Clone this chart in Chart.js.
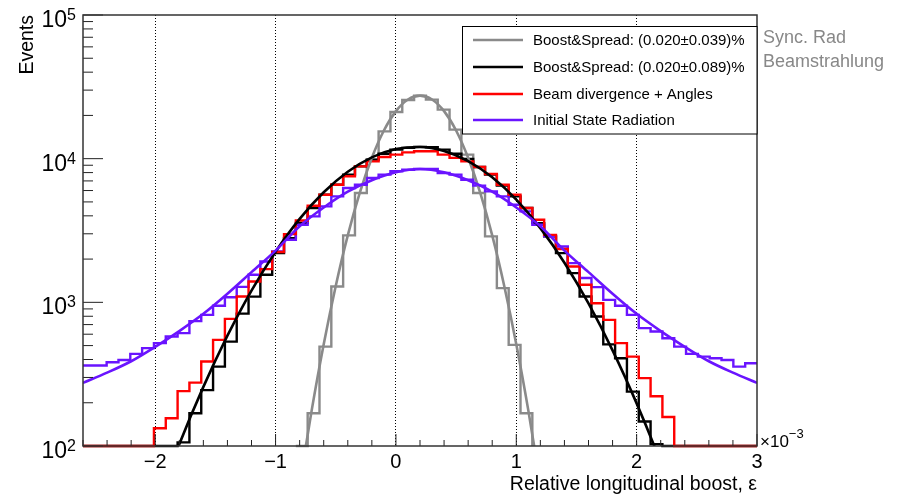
<!DOCTYPE html>
<html>
<head>
  <title>Relative longitudinal boost</title>
  <script src="https://cdn.jsdelivr.net/npm/chart.js"></script>
  <style>
    body { margin: 0; background: #fff; }
    #chart { display: block; }
  </style>
</head>
<body>
  <canvas id="chart" width="903" height="496"></canvas>

  <script>
    // x axis (units of 1e-3) and binning of the histograms
    const xMin = -2.6;
    const xMax = 3.0;
    const nBins = 57;
    const xLabelValues = [-2, -1, 0, 1, 2, 3];
    const yDecades = [2, 3, 4, 5];

    // bin contents (100 = sitting on the bottom of the frame)
    const greyCounts = [null, null, null, null, null, null, null, null, null, null, null, null, null, null, null, null, null, null,
      100, 169, 492, 1289, 2924, 5768, 9840, 15490, 21130, 25600, 27480, 25760, 21930, 15930, 10670, 5770, 2877, 1256, 506, 169, 100,
      null, null, null, null, null, null, null, null, null, null, null, null, null, null, null, null, null, null];
    const blackCounts = [100, 100, 100, 100, 100, 100, 100, 100,
      106, 169, 245, 357, 533, 835, 1096, 1556, 2203, 2800, 3563, 4530, 5610, 6590, 7740, 8840, 9840, 10830, 11560, 11880,
      12080, 12000, 11560, 10830, 9950, 8750, 7740, 6490, 5460, 4530, 3560, 2877, 2200, 1597, 1097, 796, 510, 408, 239, 148, 103,
      100, 100, 100, 100, 100, 100, 100, 100];
    const redCounts = [100, 100, 100, 100, 100, 100,
      133, 156, 241, 276, 387, 548, 767, 1097, 1396, 1703, 2240, 2985, 3715, 4700, 5610, 6590, 7540, 8840, 9570, 10280, 10670, 11060,
      11250, 11250, 10670, 10120, 9580, 8750, 7820, 6590, 5610, 4530, 3760, 2950, 2350, 1774, 1324, 986, 755, 520, 419, 297, 222, 159,
      100, 100, 100, 100, 100, 100, 100];
    const purpleCounts = [363, 363, 383, 397, 438, 480, 520, 578, 610, 740, 818, 946, 1086, 1282, 1556, 1923, 2259, 2729, 3467,
      3963, 4656, 5460, 6250, 6590, 7340, 7740, 8170, 8380, 8470, 8470, 7940, 7740, 7140, 6490, 5920, 5460, 4780, 4300, 3467,
      2877, 2449, 1875, 1476, 1276, 1041, 946, 818, 661, 626, 563, 492, 438, 419, 408, 397, 357, 377];

    // fitted curves, sampled off the plot
    const greyFitX = [-0.8, -0.7, -0.6, -0.5, -0.4, -0.3, -0.2, -0.1, 0, 0.1, 0.2, 0.3, 0.4, 0.5, 0.6, 0.7, 0.8, 0.9, 1.0, 1.1, 1.2];
    const greyFitY = [54, 177, 511, 1300, 2924, 5794, 10140, 15700, 21420, 25820, 27480, 25820, 21420, 15700, 10140, 5794, 2924, 1300, 511, 177, 54];
    const blackFitX = [-2.0, -1.8, -1.6, -1.4, -1.2, -1.0, -0.8, -0.6, -0.4, -0.2, 0, 0.2, 0.4, 0.6, 0.8, 1.0, 1.2, 1.4, 1.6, 1.8, 2.0, 2.2, 2.4];
    const blackFitY = [37, 103, 258, 586, 1208, 2250, 3808, 5834, 8110, 10210, 11660, 12070, 11320, 9620, 7420, 5190, 3286, 1888, 982, 463, 198, 77, 27];
    const purpleFitX = [-2.6, -2.4, -2.2, -2.0, -1.8, -1.6, -1.4, -1.2, -1.0, -0.8, -0.6, -0.4, -0.2, 0, 0.2, 0.4, 0.6, 0.8, 1.0, 1.2, 1.4, 1.6, 1.8, 2.0, 2.2, 2.4, 2.6, 2.8, 3.0];
    const purpleFitY = [275, 324, 389, 490, 631, 832, 1148, 1622, 2291, 3388, 4571, 5888, 7080, 8035, 8472, 8035, 7080, 5888, 4571, 3388, 2291, 1622, 1148, 832, 631, 490, 389, 324, 275];

    const seriesNames = ['Boost&Spread: (0.020\u00B10.039)%', 'Boost&Spread: (0.020\u00B10.089)%', 'Beam divergence + Angles', 'Initial State Radiation'];
    const seriesColors = ['#8a8a8a', '#000000', '#ff0000', '#6a14ff'];
    const sideNotes = ['Sync. Rad', 'Beamstrahlung'];

    const fontFamily = '"Liberation Sans", Arial, Helvetica, sans-serif';

    // left bin edges + closing edge, for stepped lines
    function histPoints(counts) {
      const w = (xMax - xMin) / nBins;
      const pts = counts.map((c, k) => ({ x: xMin + k * w, y: c }));
      pts.push({ x: xMax, y: counts[counts.length - 1] });
      return pts;
    }

    function curvePoints(xs, ys) {
      return xs.map((v, i) => ({ x: v, y: ys[i] }));
    }

    function isInt(v) {
      return Math.abs(v - Math.round(v)) < 1e-6;
    }

    function histDataset(counts, color) {
      return {
        data: histPoints(counts),
        borderColor: color,
        borderWidth: 2.4,
        stepped: true,
        pointRadius: 0,
        fill: false,
        clip: { left: 0, top: 0, right: 0, bottom: 2 }
      };
    }

    function fitDataset(xs, ys, color) {
      return {
        data: curvePoints(xs, ys),
        borderColor: color,
        borderWidth: 2.6,
        cubicInterpolationMode: 'monotone',
        pointRadius: 0,
        fill: false
      };
    }

    // frame, inward ticks, labels, legend and notes in ROOT style
    const rootStyle = {
      id: 'rootStyle',
      beforeDraw(chart) {
        const ctx = chart.ctx;
        ctx.save();
        ctx.fillStyle = '#fff';
        ctx.fillRect(0, 0, chart.width, chart.height);
        ctx.restore();
      },
      afterDraw(chart) {
        const ctx = chart.ctx;
        const a = chart.chartArea;
        const x = chart.scales.x;
        const y = chart.scales.y;
        ctx.save();

        // ticks on the x axis
        ctx.strokeStyle = '#222';
        ctx.lineWidth = 1;
        x.ticks.forEach(t => {
          const px = x.getPixelForValue(t.value);
          const len = isInt(t.value) ? 12 : 6;
          ctx.beginPath();
          ctx.moveTo(px, a.bottom);
          ctx.lineTo(px, a.bottom - len);
          ctx.stroke();
        });

        // ticks on the y axis
        yDecades.forEach(e => {
          for (let m = 1; m <= 9; m++) {
            if (e === yDecades[yDecades.length - 1] && m > 1) break;
            const py = y.getPixelForValue(m * Math.pow(10, e));
            ctx.beginPath();
            ctx.moveTo(a.left, py);
            ctx.lineTo(a.left + (m === 1 ? 20 : 10), py);
            ctx.stroke();
          }
        });

        // frame
        ctx.strokeStyle = '#333';
        ctx.lineWidth = 1.5;
        ctx.strokeRect(a.left, a.top, a.right - a.left, a.bottom - a.top);

        // y tick labels 10^n
        ctx.fillStyle = '#000';
        yDecades.forEach(e => {
          const py = y.getPixelForValue(Math.pow(10, e));
          ctx.font = '23px ' + fontFamily;
          ctx.textAlign = 'right';
          ctx.textBaseline = 'alphabetic';
          ctx.fillText('10', 67, py + 12);
          ctx.font = '16px ' + fontFamily;
          ctx.textAlign = 'left';
          ctx.fillText(String(e), 67, py + 5);
        });

        // axis titles
        ctx.font = '19.5px ' + fontFamily;
        ctx.textAlign = 'right';
        ctx.textBaseline = 'alphabetic';
        ctx.fillText('Relative longitudinal boost, \u03B5', a.right, 490);
        ctx.save();
        ctx.translate(33, a.top);
        ctx.rotate(-Math.PI / 2);
        ctx.fillText('Events', 0, 0);
        ctx.restore();

        // x10^-3 multiplier
        ctx.textAlign = 'left';
        ctx.font = '17px ' + fontFamily;
        ctx.fillText('\u00D710', a.right + 3, a.bottom + 1);
        const w10 = ctx.measureText('\u00D710').width;
        ctx.font = '13px ' + fontFamily;
        ctx.fillText('\u22123', a.right + 3 + w10, a.bottom - 8);

        // legend box
        const lx = 462.5, ly = 26.5, lw = a.right - lx, lh = 107.5;
        ctx.fillStyle = '#fff';
        ctx.fillRect(lx, ly, lw, lh);
        ctx.strokeStyle = '#000';
        ctx.lineWidth = 1;
        ctx.strokeRect(lx, ly, lw, lh);
        const rows = [40, 67, 94, 120];
        ctx.font = '15px ' + fontFamily;
        ctx.textBaseline = 'middle';
        seriesNames.forEach((name, i) => {
          ctx.strokeStyle = seriesColors[i];
          ctx.lineWidth = 2.5;
          ctx.beginPath();
          ctx.moveTo(473, rows[i]);
          ctx.lineTo(523, rows[i]);
          ctx.stroke();
          ctx.fillStyle = '#000';
          ctx.fillText(name, 533, rows[i] + 1);
        });

        // notes next to the frame
        ctx.fillStyle = '#888';
        ctx.font = '18px ' + fontFamily;
        sideNotes.forEach((s, i) => {
          ctx.fillText(s, a.right + 6, 38 + i * 24);
        });

        ctx.restore();
      }
    };

    const chart = new Chart(document.getElementById('chart').getContext('2d'), {
      type: 'line',
      data: {
        datasets: [
          fitDataset(purpleFitX, purpleFitY, seriesColors[3]),
          fitDataset(blackFitX, blackFitY, seriesColors[1]),
          fitDataset(greyFitX, greyFitY, seriesColors[0]),
          histDataset(redCounts, seriesColors[2]),
          histDataset(purpleCounts, seriesColors[3]),
          histDataset(blackCounts, seriesColors[1]),
          histDataset(greyCounts, seriesColors[0])
        ]
      },
      options: {
        responsive: false,
        animation: false,
        devicePixelRatio: 1,
        events: [],
        layout: { padding: { left: 0, right: 146, top: 15, bottom: 0 } },
        plugins: {
          legend: { display: false },
          tooltip: { enabled: false }
        },
        scales: {
          x: {
            type: 'linear',
            min: xMin,
            max: xMax,
            afterFit(s) { s.height = 50; },
            border: { display: false, dash: [1, 2] },
            grid: {
              drawTicks: false,
              lineWidth: 1,
              color: c => (c.tick && isInt(c.tick.value) && c.tick.value > xMin && c.tick.value < xMax) ? '#000' : 'rgba(0,0,0,0)'
            },
            ticks: {
              stepSize: 0.2,
              autoSkip: false,
              maxRotation: 0,
              padding: 4,
              color: '#000',
              font: { family: fontFamily, size: 20 },
              callback: v => {
                const r = Math.round(v);
                if (!isInt(v) || !xLabelValues.includes(r)) return '';
                return r < 0 ? '\u2212' + Math.abs(r) : String(r);
              }
            }
          },
          y: {
            type: 'logarithmic',
            min: 100,
            max: 100000,
            afterFit(s) { s.width = 83; },
            border: { display: false },
            grid: { display: false },
            ticks: { display: false }
          }
        }
      },
      plugins: [rootStyle]
    });
  </script>
</body>
</html>
